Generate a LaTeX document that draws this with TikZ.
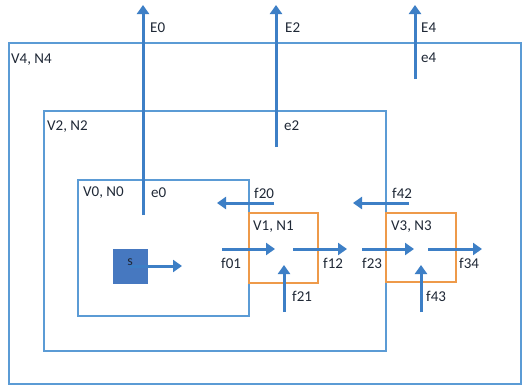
\documentclass[tikz,border=0pt]{standalone}
\usepackage{fontspec}
\setmainfont{Carlito}
\usetikzlibrary{arrows.meta}
\definecolor{boxblue}{HTML}{5B9BD5}
\definecolor{arrblue}{HTML}{3D7FC6}
\definecolor{orng}{HTML}{EE9A4A}
\definecolor{sfill}{HTML}{4678C0}
\definecolor{txt}{HTML}{1F2836}
\begin{document}
\begin{tikzpicture}[x=1pt,y=-1pt,
  region/.style={draw=boxblue,line width=1.6pt},
  obox/.style={draw=orng,line width=1.6pt},
  flow/.style={draw=arrblue,line width=3pt,-{Triangle[length=9pt,width=12pt]}},
  lbl/.style={text=txt,font=\fontsize{15}{15}\selectfont,anchor=west,inner sep=0pt}]
\useasboundingbox[fill=white] (0,0) rectangle (523,386);
% regions
\draw[region] (9,43) rectangle (521,384);
\draw[region] (44,111) rectangle (386,351);
\draw[region] (78,180) rectangle (249,316);
\draw[obox] (249,213) rectangle (318,283);
\draw[obox] (386,213) rectangle (456,282);
\node[draw=sfill,fill=sfill,minimum width=34pt,minimum height=34pt,inner sep=0pt] (s) at (130,266) {};
% labels
\node[lbl] (l4) at (11,60) {V4, N4};
\node[lbl] (l2) at (47,127) {V2, N2};
\node[lbl] (l0) at (83,193) {V0, N0};
\node[lbl] (l1) at (253,227) {V1, N1};
\node[lbl] (l3) at (391,227) {V3, N3};
\node[lbl] (lE0) at (150,28) {E0};
\node[lbl] (lE2) at (285,28) {E2};
\node[lbl] (lE4) at (421,28) {E4};
\node[lbl] (le4) at (421,58) {e4};
\node[lbl] (le2) at (284,126) {e2};
\node[lbl] (le0) at (151,193) {e0};
\node[lbl] (lf20) at (254,193) {f20};
\node[lbl] (lf42) at (392,193) {f42};
\node[lbl] (lf01) at (221,263) {f01};
\node[lbl] (lf12) at (323,263) {f12};
\node[lbl] (lf23) at (362,263) {f23};
\node[lbl] (lf34) at (459,263) {f34};
\node[lbl] (lf21) at (292,296) {f21};
\node[lbl] (lf43) at (426,296) {f43};
\node[text=txt,font=\fontsize{14}{14}\selectfont,inner sep=0pt] (ls) at (130,262) {s};
% coordinates
\coordinate (e0a) at (143,215); \coordinate (e0b) at (143,5);
\coordinate (e2a) at (276,147); \coordinate (e2b) at (276,5);
\coordinate (e4a) at (415,79); \coordinate (e4b) at (415,5);
\coordinate (sb) at (182,266);
\coordinate (f20a) at (274,203); \coordinate (f20b) at (217,203);
\coordinate (f42a) at (409,203); \coordinate (f42b) at (353,203);
\coordinate (f01a) at (222,249); \coordinate (f01b) at (275,249);
\coordinate (f12a) at (293,249); \coordinate (f12b) at (347,249);
\coordinate (f23a) at (362,249); \coordinate (f23b) at (414,249);
\coordinate (f34a) at (428,249); \coordinate (f34b) at (482,249);
\coordinate (f21a) at (284,312); \coordinate (f21b) at (284,265);
\coordinate (f43a) at (421,312); \coordinate (f43b) at (421,265);
% flows
\draw[flow] (e0a) -- (e0b);
\draw[flow] (e2a) -- (e2b);
\draw[flow] (e4a) -- (e4b);
\draw[flow] (s.center) -- (sb);
\draw[flow] (f20a) -- (f20b);
\draw[flow] (f42a) -- (f42b);
\draw[flow] (f01a) -- (f01b);
\draw[flow] (f12a) -- (f12b);
\draw[flow] (f23a) -- (f23b);
\draw[flow] (f34a) -- (f34b);
\draw[flow] (f21a) -- (f21b);
\draw[flow] (f43a) -- (f43b);
\end{tikzpicture}
\end{document}
